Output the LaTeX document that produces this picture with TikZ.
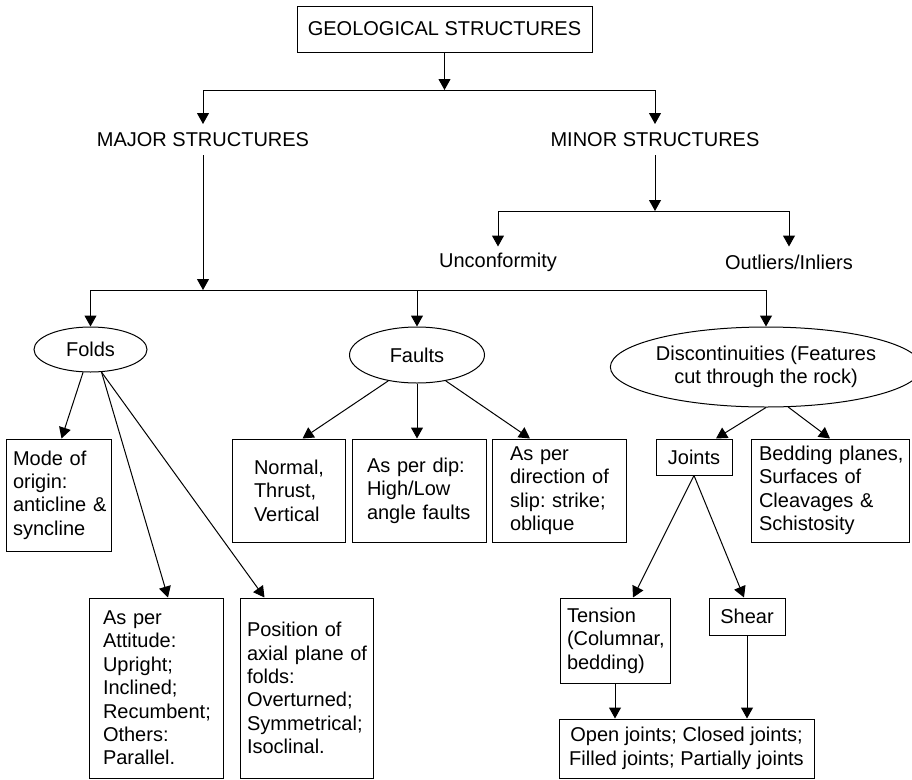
\documentclass[tikz,border=0pt]{standalone}
\usepackage{fontspec}
\setmainfont{Liberation Sans}
\usetikzlibrary{shapes.geometric,arrows.meta}
\begin{document}
\begin{tikzpicture}[x=1pt,y=-1pt,line width=1pt,
    font=\fontsize{20}{23.4}\selectfont,
    box/.style={draw,rectangle,inner sep=0pt,align=center},
    lbox/.style={draw,rectangle,align=left,inner ysep=0pt},
    oval/.style={draw,ellipse,inner sep=0pt,align=center},
    word/.style={inner sep=0pt,minimum height=30pt},
    arr/.style={-{Triangle[length=11pt,width=12pt]}}]
    \useasboundingbox (0,0) rectangle (912,779);

    \node[box,minimum width=295pt,minimum height=46pt] (geo) at (444.5,29) {GEOLOGICAL STRUCTURES};
    \node[word] (major) at (203,139.5) {MAJOR STRUCTURES};
    \node[word] (minor) at (655,139.5) {MINOR STRUCTURES};
    \node[word] (uncon) at (498,262) {Unconformity};
    \node[word] (outl) at (789,262) {Outliers/Inliers};

    \coordinate (top) at (444.5,90);
    \coordinate (mid) at (203,290);
    \coordinate (minorjn) at (655,211);

    \node[oval,minimum width=113pt,minimum height=45pt] (folds) at (90.5,349.5) {Folds};
    \node[oval,minimum width=135pt,minimum height=56pt] (faults) at (417,355) {Faults};
    \node[oval,minimum width=280pt,minimum height=80pt] (disc) at (766,367) {Discontinuities (Features\\cut through the rock)};

    \node[lbox,inner xsep=7pt,text width=91pt,minimum height=112pt] (mode) at (58.5,495) {Mode of\\origin:\\anticline~\&\\syncline};
    \node[lbox,inner xsep=22pt,text width=69pt,minimum height=103pt] (normal) at (288.5,490.5) {Normal,\\Thrust,\\Vertical};
    \node[lbox,inner xsep=15pt,text width=104pt,minimum height=103pt] (dip) at (419,490.5) {As per dip:\\High/Low\\angle~faults};
    \node[lbox,inner xsep=18pt,text width=98pt,minimum height=103pt] (slip) at (559,490.5) {As per\\direction~of\\slip:~strike;\\oblique};
    \node[box,minimum width=76pt,minimum height=36pt] (joints) at (694,457) {Joints};
    \node[lbox,inner xsep=8pt,text width=142pt,minimum height=103pt] (bedding) at (830,490.5) {Bedding~planes,\\Surfaces of\\Cleavages~\&\\Schistosity};

    \node[lbox,inner xsep=14pt,text width=106pt,minimum height=180pt] (attitude) at (156,688) {As per\\Attitude:\\Upright;\\Inclined;\\Recumbent;\\Others:\\Parallel.};
    \node[lbox,inner xsep=7pt,text width=119pt,minimum height=180pt] (position) at (306.5,688) {Position~of\\axial~plane~of\\folds:\\Overturned;\\Symmetrical;\\Isoclinal.};
    \node[lbox,inner xsep=7pt,text width=96pt,minimum height=85pt] (tension) at (615,640.5) {Tension\\(Columnar,\\bedding)};
    \node[box,minimum width=76pt,minimum height=37pt] (shear) at (747,616.5) {Shear};
    \node[box,minimum width=255pt,minimum height=59pt] (jtypes) at (686.5,748.5) {Open joints; Closed joints;\\Filled joints; Partially joints};

    % top levels
    \draw[arr] (geo) -- (top);
    \draw[arr] (top) -| (major);
    \draw[arr] (top) -| (minor);
    \draw[arr] (major) -- (mid);
    \foreach \n in {folds,faults,disc}
      \draw[arr] (mid) -| (\n);
    \draw[arr] (minor) -- (minorjn);
    \foreach \n in {uncon,outl}
      \draw[arr] (minorjn) -| (\n);

    % folds
    \draw[arr] (folds) -- ([xshift=3pt]mode.north);
    \draw[arr] (folds.-64) -- ([xshift=12pt]attitude.north);
    \draw[arr] (folds.-64) -- ([xshift=-42pt]position.north);

    % faults
    \draw[arr] (faults.222) -- ([xshift=14pt]normal.north);
    \draw[arr] (faults.south) -- (faults.south |- dip.north);
    \draw[arr] (faults.-42) -- ([xshift=-29pt]slip.north);

    % discontinuities and joints
    \draw[arr] (disc.south) -- ([xshift=22pt]joints.north);
    \draw[arr] (disc.-61) -- (bedding.north);
    \draw[arr] (joints.south) -- ([xshift=18pt]tension.north);
    \draw[arr] (joints.south) -- ([xshift=-3pt]shear.north);
    \draw[arr] (tension.south) -- (tension.south |- jtypes.north);
    \draw[arr] (shear.south) -- (shear.south |- jtypes.north);
  \end{tikzpicture}
\end{document}
